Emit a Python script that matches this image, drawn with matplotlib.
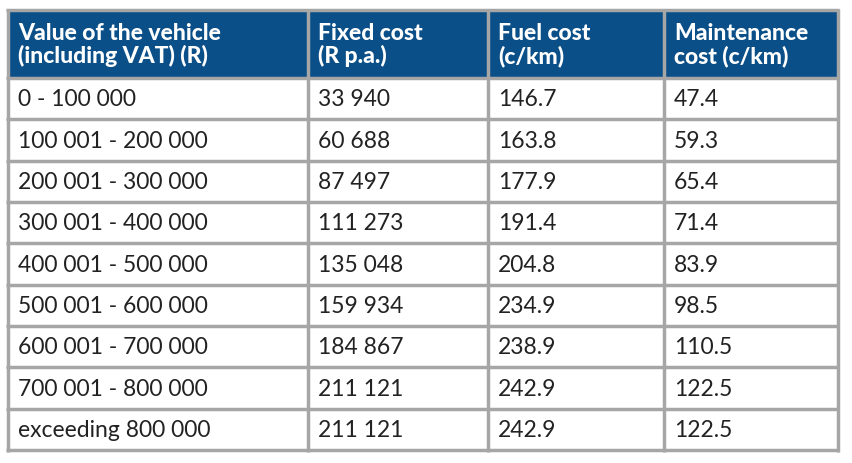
import matplotlib.pyplot as plt
from matplotlib.patches import Rectangle

headers = ['Value of the vehicle\n(including VAT) (R)', 'Fixed cost\n(R p.a.)',
           'Fuel cost\n(c/km)', 'Maintenance\ncost (c/km)']
value_bands = ['0 - 100 000', '100 001 - 200 000', '200 001 - 300 000', '300 001 - 400 000',
               '400 001 - 500 000', '500 001 - 600 000', '600 001 - 700 000',
               '700 001 - 800 000', 'exceeding 800 000']
fixed_cost = ['33 940', '60 688', '87 497', '111 273', '135 048', '159 934', '184 867',
              '211 121', '211 121']
fuel_cost = ['146.7', '163.8', '177.9', '191.4', '204.8', '234.9', '238.9', '242.9', '242.9']
maint_cost = ['47.4', '59.3', '65.4', '71.4', '83.9', '98.5', '110.5', '122.5', '122.5']

fig = plt.figure(figsize=(8.53, 4.63), dpi=100)
ax = fig.add_axes([0, 0, 1, 1])
ax.set_xlim(0, 853)
ax.set_ylim(463, 0)
ax.axis('off')

col_x = [8, 308, 488, 664, 838]
top, head_bot, bot = 10, 78, 450
row_h = (bot - head_bot) / len(value_bands)
grid = '#a6a6a6'
blue = '#0b4f88'

ax.add_patch(Rectangle((col_x[0], top), col_x[-1] - col_x[0], head_bot - top, color=blue, zorder=1))

for i, h in enumerate(headers):
    ax.text(col_x[i] + 10, (top + head_bot) / 2 + 1, h, color='white', fontsize=16.5,
            fontweight='black', family='Lato', va='center', ha='left', linespacing=1.1, zorder=3)

columns = [value_bands, fixed_cost, fuel_cost, maint_cost]
for r in range(len(value_bands)):
    yc = head_bot + row_h * (r + 0.5)
    for c, col in enumerate(columns):
        ax.text(col_x[c] + 10, yc + 1, col[r], color='#222222', fontsize=16.5, family='Lato',
                va='center', ha='left', zorder=3)

for x in col_x:
    ax.plot([x, x], [top - 1.5, bot + 1.5], color=grid, lw=2.5, zorder=2, solid_capstyle='butt')
ys = [top, head_bot] + [head_bot + row_h * (r + 1) for r in range(len(value_bands))]
for y in ys:
    ax.plot([col_x[0] - 1.5, col_x[-1] + 1.5], [y, y], color=grid, lw=2.5, zorder=2,
            solid_capstyle='butt')

fig.savefig('out.png', dpi=100)
